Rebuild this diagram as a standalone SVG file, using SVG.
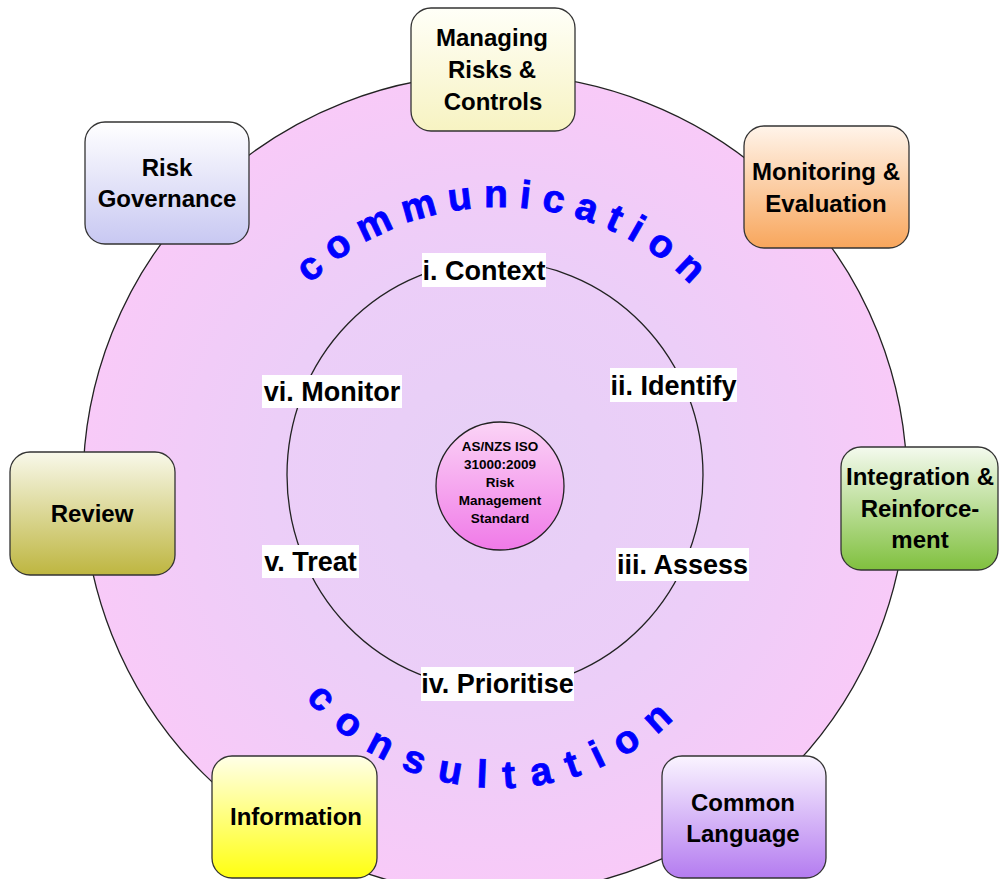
<svg xmlns="http://www.w3.org/2000/svg" xmlns:xlink="http://www.w3.org/1999/xlink" width="1000" height="879" viewBox="0 0 1000 879">
<style>
text{font-family:"Liberation Sans",Arial,sans-serif;font-weight:bold;}
.bt{font-size:24px;fill:#000;text-anchor:middle;}
.lb{font-size:27px;fill:#000;text-anchor:middle;}
.lr{fill:#fff;}
.ct{font-size:13.5px;fill:#000;text-anchor:middle;}
.arc{font-size:39px;fill:#0000ff;stroke:#0000ff;stroke-width:0.8;}
.box{stroke:#333;stroke-width:1.3;}
</style>
<defs>
<radialGradient id="gBig" cx="50%" cy="50%" r="50%">
<stop offset="0" stop-color="#e6d0f6"/>
<stop offset="0.55" stop-color="#eccef8"/>
<stop offset="0.75" stop-color="#f1ccf8"/>
<stop offset="1" stop-color="#f8caf8"/>
</radialGradient>
<linearGradient id="gCen" x1="0" y1="0" x2="0" y2="1">
<stop offset="0" stop-color="#fbd4f6"/>
<stop offset="1" stop-color="#f07ae8"/>
</linearGradient>
<linearGradient id="g1" x1="0" y1="0" x2="0" y2="1"><stop offset="0" stop-color="#fffff8"/><stop offset="1" stop-color="#f7f3c2"/></linearGradient>
<linearGradient id="g2" x1="0" y1="0" x2="0" y2="1"><stop offset="0" stop-color="#ffffff"/><stop offset="1" stop-color="#c8c8f2"/></linearGradient>
<linearGradient id="g3" x1="0" y1="0" x2="0" y2="1"><stop offset="0" stop-color="#fff4ea"/><stop offset="1" stop-color="#f8a65c"/></linearGradient>
<linearGradient id="g4" x1="0" y1="0" x2="0" y2="1"><stop offset="0" stop-color="#f8f8ea"/><stop offset="1" stop-color="#beb640"/></linearGradient>
<linearGradient id="g5" x1="0" y1="0" x2="0" y2="1"><stop offset="0" stop-color="#f4faee"/><stop offset="1" stop-color="#80c03e"/></linearGradient>
<linearGradient id="g6" x1="0" y1="0" x2="0" y2="1"><stop offset="0" stop-color="#ffffe8"/><stop offset="1" stop-color="#ffff10"/></linearGradient>
<linearGradient id="g7" x1="0" y1="0" x2="0" y2="1"><stop offset="0" stop-color="#faf4ff"/><stop offset="1" stop-color="#b47cf0"/></linearGradient>
<path id="pTop" d="M 227 480 A 273 273 0 0 1 773 480"/>
<path id="pBot" d="M 245 533 A 255 255 0 0 0 755 533"/>
</defs>
<rect width="1000" height="879" fill="#fff"/>
<g id="background">
<ellipse cx="495" cy="484" rx="412" ry="410" fill="url(#gBig)" stroke="#222" stroke-width="1.3"/>
<ellipse cx="495" cy="475" rx="208" ry="214" fill="none" stroke="#222" stroke-width="1.3"/>
<text class="arc" letter-spacing="11.1"><textPath xlink:href="#pTop" href="#pTop" startOffset="50.7%" text-anchor="middle">communication</textPath></text>
<text class="arc" letter-spacing="16.4"><textPath xlink:href="#pBot" href="#pBot" startOffset="49.2%" text-anchor="middle">consultation</textPath></text>
</g>
<g id="connectors"></g>
<g id="center">
<circle cx="500" cy="486" r="64" fill="url(#gCen)" stroke="#222" stroke-width="1.3"/>
<text class="ct" x="500" y="451">AS/NZS ISO</text>
<text class="ct" x="500" y="469">31000:2009</text>
<text class="ct" x="500" y="487">Risk</text>
<text class="ct" x="500" y="505">Management</text>
<text class="ct" x="500" y="523">Standard</text>
</g>
<g id="step-context"><rect class="lr" x="422" y="253" width="124" height="34"/><text class="lb" x="484" y="280">i. Context</text></g>
<g id="step-identify"><rect class="lr" x="610" y="368" width="127" height="34"/><text class="lb" x="673.5" y="395">ii. Identify</text></g>
<g id="step-assess"><rect class="lr" x="616" y="548" width="133" height="33"/><text class="lb" x="682.5" y="574">iii. Assess</text></g>
<g id="step-prioritise"><rect class="lr" x="421" y="667" width="153" height="34"/><text class="lb" x="497.5" y="693">iv. Prioritise</text></g>
<g id="step-treat"><rect class="lr" x="262" y="545" width="97" height="33"/><text class="lb" x="310.5" y="571">v. Treat</text></g>
<g id="step-monitor"><rect class="lr" x="262" y="375" width="140" height="33"/><text class="lb" x="332" y="401">vi. Monitor</text></g>
<g id="node-managing"><rect class="box" x="411" y="8" width="164" height="123" rx="20" fill="url(#g1)"/><text class="bt" x="492" y="46">Managing</text><text class="bt" x="492" y="78">Risks &amp;</text><text class="bt" x="493" y="110">Controls</text></g>
<g id="node-governance"><rect class="box" x="85" y="122" width="164" height="122" rx="20" fill="url(#g2)"/><text class="bt" x="167" y="176">Risk</text><text class="bt" x="167" y="207">Governance</text></g>
<g id="node-monitoring"><rect class="box" x="744" y="126" width="165" height="122" rx="20" fill="url(#g3)"/><text class="bt" x="826" y="180">Monitoring &amp;</text><text class="bt" x="826" y="212">Evaluation</text></g>
<g id="node-review"><rect class="box" x="10" y="452" width="165" height="123" rx="20" fill="url(#g4)"/><text class="bt" x="92" y="522">Review</text></g>
<g id="node-integration"><rect class="box" x="841" y="447" width="157" height="123" rx="20" fill="url(#g5)"/><text class="bt" x="920" y="485">Integration &amp;</text><text class="bt" x="920" y="517">Reinforce-</text><text class="bt" x="920" y="548">ment</text></g>
<g id="node-information"><rect class="box" x="212" y="756" width="165" height="122" rx="20" fill="url(#g6)"/><text class="bt" x="296" y="825">Information</text></g>
<g id="node-language"><rect class="box" x="662" y="756" width="164" height="122" rx="20" fill="url(#g7)"/><text class="bt" x="743" y="811">Common</text><text class="bt" x="743" y="842">Language</text></g>
</svg>
